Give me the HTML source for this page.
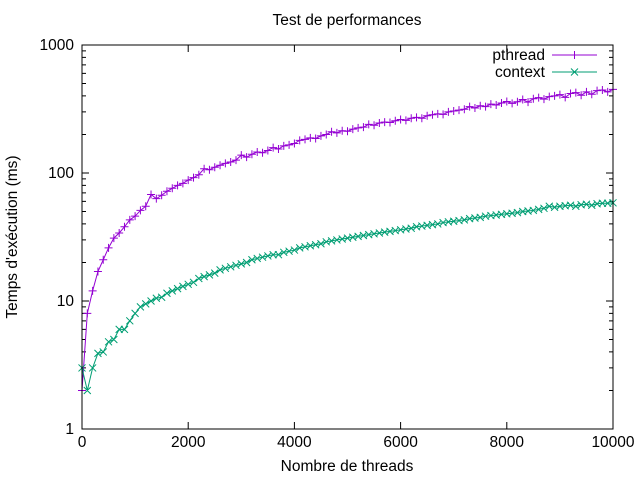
<!DOCTYPE html>
<html><head><meta charset="utf-8"><style>
body{margin:0;background:#fff}
svg{display:block;font-family:"Liberation Sans",sans-serif;font-size:15.5px}
</style></head><body>
<svg id="c" width="640" height="480">
<text x="347" y="25" text-anchor="middle">Test de performances</text>
<text x="347" y="471" text-anchor="middle">Nombre de threads</text>
<text transform="translate(17,237) rotate(-90)" text-anchor="middle">Temps d'exécution (ms)</text>
<g id="ax"></g><g id="ser"></g>
<text x="545" y="60" text-anchor="end">pthread</text>
<text x="545" y="77" text-anchor="end">context</text>
<rect x="82" y="45" width="531" height="384" fill="none" stroke="#000"/>
</svg>
<script>
const xTicks=[0,2000,4000,6000,8000,10000];
const yTicks=[1,10,100,1000];
const xs=[];for(let i=0;i<=100;i++)xs.push(i*100);
const pthread=[2,8,12,17,21,26,31,34,38,43,46,
51,55,68,63,67,72,76,80,83,88,
92,97,108,106,111,115,119,122,126,138,
133,140,146,144,150,158,154,163,166,170,
180,183,188,186,195,200,210,206,214,212,
220,225,228,240,236,246,250,248,256,262,
258,268,272,268,280,285,290,287,300,305,
310,315,330,322,335,330,345,340,352,362,
350,360,375,358,380,388,378,395,400,410,
390,418,425,405,430,412,440,445,430,450];
const context=[3,2,3,3.9,4,4.8,5,6,6,7,8,
9,9.5,10,10.5,10.7,11.5,12,12.5,13,13.5,
14,15,15.5,16,16.5,17.5,18,18.5,19,19.5,
20,21,21.5,22,22.5,23,23,24,24.5,25,
26,26.5,27,27.5,28,29,29.5,30,30.5,31,
31.5,32,32.5,33,33.5,34,34.5,35,35.5,36,
36.5,37,38,38.5,39,39.5,40,41,41.5,42,
42.5,43,44,44.5,45,46,46.5,47,47.5,48,
48.5,49,50,50.5,51,52,53,55,54,55,
55.5,56,55,56.5,57,56,57.5,58,58,58.5];
const L=82,R=613,T=45,B=429;
const X=v=>L+(v-0)/(10000)*(R-L);
const Y=v=>B-Math.log10(v)/3*(B-T);
const NS="http://www.w3.org/2000/svg";
const ax=document.getElementById('ax'),ser=document.getElementById('ser');
function mk(tag,at,p){const e=document.createElementNS(NS,tag);for(const k in at)e.setAttribute(k,at[k]);p.appendChild(e);return e;}
xTicks.forEach(v=>{
 const x=X(v);
 mk('path',{d:`M${x},${B}v-7M${x},${T}v7`,stroke:'#000'},ax);
 const t=mk('text',{x:x,y:B+18,'text-anchor':'middle'},ax);t.textContent=v;
 
 
});
yTicks.forEach((v,i)=>{
 const y=Y(v);
 mk('path',{d:`M${L},${y}h7M${R},${y}h-7`,stroke:'#000'},ax);
 const t=mk('text',{x:L-8,y:y+5,'text-anchor':'end'},ax);t.textContent=v;
 
 
 if(i<yTicks.length-1)for(let m=2;m<10;m++){const yy=Y(v*m);mk('path',{d:`M${L},${yy}h4M${R},${yy}h-4`,stroke:'#000'},ax);}
});
function series(vals,col,marker,name){
 const g=mk('g',{},ser);
 
 
 mk('polyline',{points:vals.map((v,i)=>X(xs[i])+','+Y(v)).join(' '),fill:'none',stroke:col,'stroke-width':1},g);
 let d='';
 vals.forEach((v,i)=>{const x=X(xs[i]),y=Y(v);
  d+=marker==='+'?`M${x-4},${y}h8M${x},${y-4}v8`:`M${x-3.5},${y-3.5}l7,7M${x-3.5},${y+3.5}l7,-7`;});
 mk('path',{d:d,stroke:col,'stroke-width':1,fill:'none'},g);
}
series(pthread,'#9400d3','+','pthread');
series(context,'#009e73','x','context');
const lg1=mk('path',{d:'M552,55h45M574.5,51v8',stroke:'#9400d3'},ser);


const lg2=mk('path',{d:'M552,72h45M571,68.5l7,7M571,75.5l7,-7',stroke:'#009e73'},ser);


</script>
</body></html>
